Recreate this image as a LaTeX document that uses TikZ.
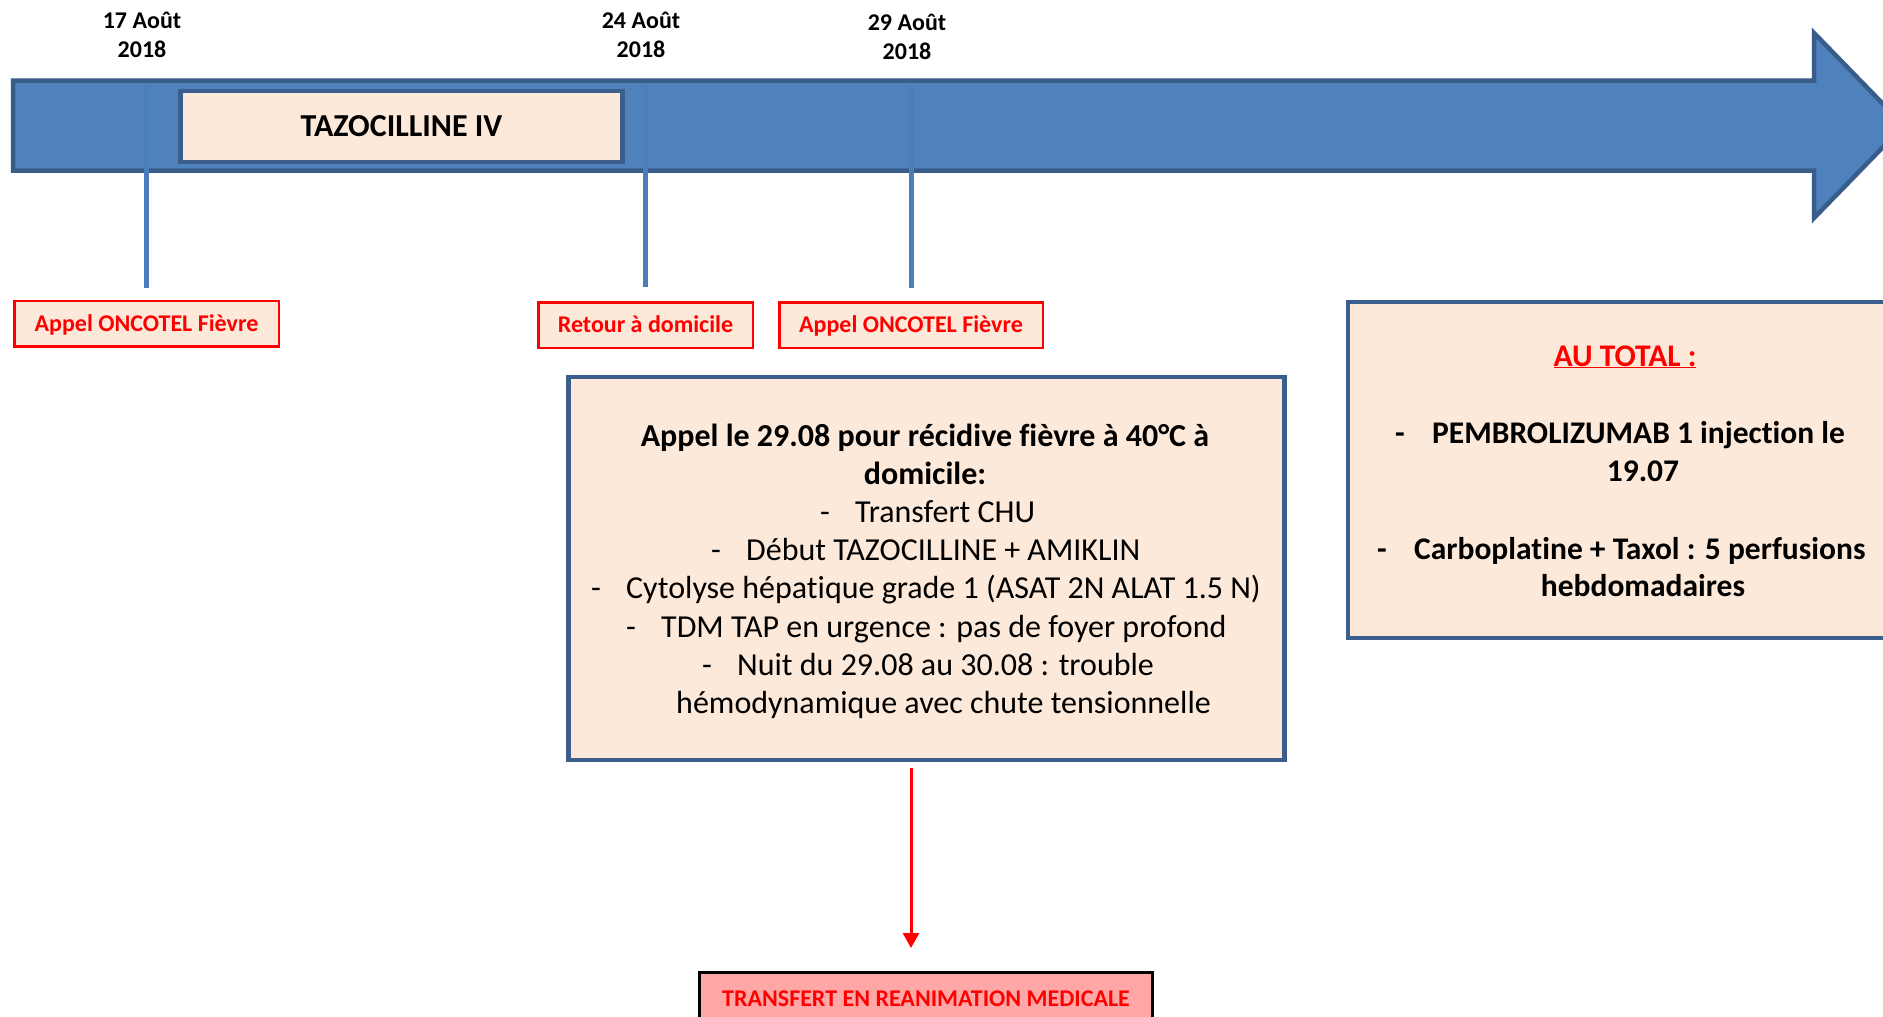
\documentclass[tikz,border=0pt]{standalone}
\usepackage{fontspec}
\setmainfont{Carlito}[Ligatures=NoCommon]
\usetikzlibrary{arrows.meta}
\definecolor{arrowfill}{HTML}{4F81BD}
\definecolor{arrowedge}{HTML}{385D8A}
\definecolor{peach}{HTML}{FDE9D9}
\definecolor{tickline}{HTML}{4A7EBB}
\definecolor{boxedge}{HTML}{3B5E8C}
\definecolor{pinkfill}{HTML}{FFA7A7}
\definecolor{redtxt}{HTML}{FF0000}
\begin{document}
\begin{tikzpicture}[x=1pt,y=1pt,
  datestyle/.style={font=\fontsize{24}{29}\selectfont\bfseries, inner sep=0, anchor=base},
  evlabel/.style={draw=redtxt, line width=2.5pt, fill=peach, text=redtxt,
    font=\fontsize{24}{29}\selectfont\bfseries, minimum height=45.5pt,
    text height=15.2pt, text depth=0pt, inner sep=0},
  tickln/.style={draw=tickline, line width=5pt},
  infobox/.style={draw=boxedge, line width=4.5pt, fill=peach, inner sep=0},
  midbold/.style={font=\fontsize{32}{38}\selectfont\bfseries, inner sep=0, anchor=base},
  midreg/.style={font=\fontsize{32}{38}\selectfont, inner sep=0, anchor=base west},
  totbold/.style={font=\fontsize{31.5}{38}\selectfont\bfseries, inner sep=0},
]
\useasboundingbox (0,0) rectangle (1883,-1017);
\fill[white] (0,0) rectangle (1883,-1017);
\begin{scope}
\clip (0,0) rectangle (1883,-1017);

% timeline arrow
\draw[arrowedge, fill=arrowfill, line width=4.5pt, line join=miter]
  (13,-80.5) -- (1814,-80.5) -- (1814,-33) -- (1904,-125.5) -- (1814,-218)
  -- (1814,-170.5) -- (13,-170.5) -- cycle;

% dates
\node[datestyle] (d17a) at (142,-28.3) {17 Août};
\node[datestyle] (d17b) at (142,-57.3) {2018};
\node[datestyle] (d24a) at (641,-28.5) {24 Août};
\node[datestyle] (d24b) at (641,-57.5) {2018};
\node[datestyle] (d29a) at (907,-30) {29 Août};
\node[datestyle] (d29b) at (907,-59) {2018};

% event labels
\node[evlabel, minimum width=264.5pt] (ev1) at (146.5,-323.5) {Appel ONCOTEL Fièvre};
\node[evlabel, minimum width=214.5pt] (ev2) at (645.5,-325) {Retour à domicile};
\node[evlabel, minimum width=263.5pt] (ev3) at (911,-325) {Appel ONCOTEL Fièvre};

% tick lines
\coordinate (a17) at (146.5,-86);
\coordinate (a24) at (645.5,-86);
\coordinate (a29) at (911,-86);
\draw[tickln, shorten >=12pt] (a17) -- (ev1.north);
\draw[tickln, shorten >=14pt] (a24) -- (ev2.north);
\draw[tickln, shorten >=13pt] (a29) -- (ev3.north);

% TAZOCILLINE bar
\node[infobox, minimum width=442pt, minimum height=71pt, text height=20pt, text depth=0pt,
  font=\fontsize{32}{38}\selectfont\bfseries] (taz) at (401.5,-126.5) {TAZOCILLINE IV};

% middle box
\node[infobox, minimum width=716pt, minimum height=383pt] (mid) at (926.5,-568.5) {};
\node[midbold] (m1) at (925,-446) {Appel le 29.08 pour récidive fièvre à 40°C à};
\node[midbold] (m2) at (925,-484.2) {domicile:};
\node[midreg] (m3) at (820,-522.4) {\makebox[35pt][l]{-}Transfert CHU};
\node[midreg] (m4) at (711,-560.6) {\makebox[35pt][l]{-}Début TAZOCILLINE + AMIKLIN};
\node[midreg] (m5) at (591,-598.8) {\makebox[35pt][l]{-}Cytolyse hépatique grade 1 (ASAT 2N ALAT 1.5 N)};
\node[midreg] (m6) at (626,-637) {\makebox[35pt][l]{-}TDM TAP en urgence : pas de foyer profond};
\node[midreg] (m7) at (702,-675.2) {\makebox[35pt][l]{-}Nuit du 29.08 au 30.08 : trouble};
\node[midreg] (m8) at (676,-713.4) {hémodynamique avec chute tensionnelle};

% AU TOTAL box
\node[infobox, minimum width=602pt, minimum height=336pt] (tot) at (1649,-470) {};
\node[totbold, text=redtxt, anchor=base] (t0) at (1625,-366) {\underline{AU TOTAL :}};
\node[totbold, anchor=base west] (t1) at (1395,-443) {\makebox[37pt][l]{-}PEMBROLIZUMAB 1 injection le};
\node[totbold, anchor=base] (t2) at (1643,-481) {19.07};
\node[totbold, anchor=base west] (t3) at (1377,-559) {\makebox[37pt][l]{-}Carboplatine + Taxol : 5 perfusions};
\node[totbold, anchor=base] (t4) at (1643,-596) {hebdomadaires};

% transfer box
\node[draw=black, line width=3pt, fill=pinkfill, text=redtxt,
  font=\fontsize{24}{29}\selectfont\bfseries, minimum width=453pt, minimum height=52pt,
  text height=15.2pt, text depth=0pt, inner sep=0] (trans) at (926,-998.5)
  {TRANSFERT EN REANIMATION MEDICALE};

% red arrow
\draw[redtxt, line width=3pt, -{Triangle[width=16pt,length=15pt]},
  shorten <=6pt, shorten >=23pt] (mid.south -| a29) -- (trans.north -| a29);
\end{scope}
\end{tikzpicture}
\end{document}
